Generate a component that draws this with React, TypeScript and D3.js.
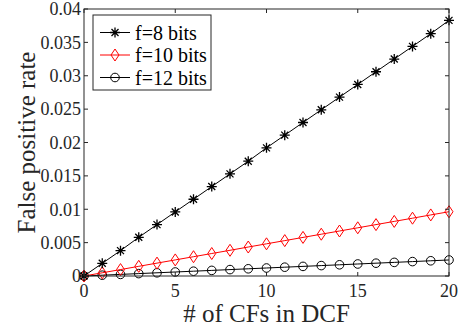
import React, { useEffect, useRef } from "react";
import * as d3 from "d3";

// number of CFs in the DCF
const cfCounts = [0, 1, 2, 3, 4, 5, 6, 7, 8, 9, 10, 11, 12, 13, 14, 15, 16, 17, 18, 19, 20];

const fpr8 = [0, 0.0019, 0.0038, 0.0058, 0.0077, 0.0096, 0.0115, 0.0134, 0.0153, 0.0172, 0.0192,
  0.0211, 0.023, 0.0249, 0.0268, 0.0287, 0.0306, 0.0325, 0.0344, 0.0363, 0.0383];
const fpr10 = [0, 0.00048, 0.00096, 0.00145, 0.00193, 0.00241, 0.00289, 0.00337, 0.00385, 0.00434, 0.00482,
  0.0053, 0.00578, 0.00626, 0.00674, 0.00722, 0.0077, 0.00818, 0.00866, 0.00915, 0.00963];
const fpr12 = [0, 0.00012, 0.00024, 0.00036, 0.00048, 0.0006, 0.00072, 0.00084, 0.00096, 0.00108, 0.0012,
  0.00132, 0.00144, 0.00156, 0.00168, 0.0018, 0.00192, 0.00204, 0.00216, 0.00228, 0.0024];

const seriesNames = ["f=8 bits", "f=10 bits", "f=12 bits"];
const xTicks = [0, 5, 10, 15, 20];
const yTicks = [0, 0.005, 0.01, 0.015, 0.02, 0.025, 0.03, 0.035, 0.04];

const FONT = "'Liberation Serif', 'Times New Roman', serif";
const AXIS = "#262626";

export default function App() {
  const ref = useRef<SVGSVGElement>(null);

  useEffect(() => {
    const svg = d3.select(ref.current);
    svg.selectAll("*").remove();

    const width = 462;
    const height = 335;
    const margin = { top: 9, right: 13, bottom: 59, left: 84 };

    const x = d3.scaleLinear().domain([0, 20]).range([margin.left, width - margin.right]);
    const y = d3.scaleLinear().domain([0, 0.04]).range([height - margin.bottom, margin.top]);

    const series = [
      { name: seriesNames[0], values: fpr8, color: "#000000", marker: "star" },
      { name: seriesNames[1], values: fpr10, color: "#ff0000", marker: "diamond" },
      { name: seriesNames[2], values: fpr12, color: "#000000", marker: "circle" },
    ];

    const drawMarker = (g: any, type: string, color: string) => {
      if (type === "star") {
        const r = 5;
        return g.append("path")
          .attr("d", `M${-r},0H${r}M0,${-r}V${r}M${-r * 0.7},${-r * 0.7}L${r * 0.7},${r * 0.7}M${-r * 0.7},${r * 0.7}L${r * 0.7},${-r * 0.7}`)
          .attr("stroke", color)
          .attr("stroke-width", 1.3)
          .attr("fill", "none");
      }
      if (type === "diamond") {
        return g.append("path")
          .attr("d", "M0,-6L4,0L0,6L-4,0Z")
          .attr("stroke", color)
          .attr("stroke-width", 1)
          .attr("fill", "none");
      }
      return g.append("circle")
        .attr("r", 4.3)
        .attr("stroke", color)
        .attr("stroke-width", 1)
        .attr("fill", "none");
    };

    const x0 = x(0), x1 = x(20), y0 = y(0), y1 = y(0.04);

    // Lines and markers
    const line = d3.line<number>()
      .x((_, i) => x(cfCounts[i]))
      .y(d => y(d));

    series.slice().reverse().forEach(s => {
      svg.append("path")
        .datum(s.values)
        .attr("d", line)
        .attr("fill", "none")
        .attr("stroke", s.color)
        .attr("stroke-width", 1);
      s.values.forEach((v, i) => {
        const g = svg.append("g").attr("transform", `translate(${x(cfCounts[i])},${y(v)})`);
        drawMarker(g, s.marker, s.color);
      });
    });

    // axes box
    const axisG = svg.append("g");
    axisG.append("rect")
      .attr("x", x0).attr("y", y1)
      .attr("width", x1 - x0).attr("height", y0 - y1)
      .attr("fill", "none")
      .attr("stroke", AXIS)
      .attr("stroke-width", 1);

    // X ticks (bottom + mirrored top)
    xTicks.forEach(t => {
      axisG.append("line").attr("x1", x(t)).attr("x2", x(t)).attr("y1", y0).attr("y2", y0 - 4).attr("stroke", AXIS);
      axisG.append("line").attr("x1", x(t)).attr("x2", x(t)).attr("y1", y1).attr("y2", y1 + 4).attr("stroke", AXIS);
      axisG.append("text")
        .attr("x", x(t)).attr("y", y0 + 21)
        .attr("text-anchor", "middle")
        .attr("font-family", FONT).attr("font-size", 18)
        .attr("fill", AXIS)
        .text(d3.format("d")(t));
    });

    // Y ticks (left + mirrored right)
    yTicks.forEach(t => {
      axisG.append("line").attr("x1", x0).attr("x2", x0 + 4).attr("y1", y(t)).attr("y2", y(t)).attr("stroke", AXIS);
      axisG.append("line").attr("x1", x1).attr("x2", x1 - 4).attr("y1", y(t)).attr("y2", y(t)).attr("stroke", AXIS);
      axisG.append("text")
        .attr("x", x0 - 3).attr("y", y(t))
        .attr("dy", "0.35em")
        .attr("text-anchor", "end")
        .attr("font-family", FONT).attr("font-size", 18)
        .attr("fill", AXIS)
        .text(t === 0 ? "0" : String(+t.toFixed(3)));
    });

    // Axis labels
    svg.append("text")
      .attr("x", (x0 + x1) / 2).attr("y", 322)
      .attr("text-anchor", "middle")
      .attr("font-family", FONT).attr("font-size", 25)
      .attr("fill", AXIS)
      .text("# of CFs in DCF");

    svg.append("text")
      .attr("transform", `translate(35,${(y0 + y1) / 2}) rotate(-90)`)
      .attr("text-anchor", "middle")
      .attr("font-family", FONT).attr("font-size", 25)
      .attr("fill", AXIS)
      .text("False positive rate");

    // Legend
    const legend = svg.append("g").attr("transform", "translate(93,15)");
    legend.append("rect")
      .attr("width", 118).attr("height", 75)
      .attr("fill", "#fff")
      .attr("stroke", AXIS)
      .attr("stroke-width", 1);
    series.forEach((s, i) => {
      const cy = 17.5 + i * 22.5;
      legend.append("line")
        .attr("x1", 7).attr("x2", 37).attr("y1", cy).attr("y2", cy)
        .attr("stroke", s.color).attr("stroke-width", 1);
      const g = legend.append("g").attr("transform", `translate(22,${cy})`);
      drawMarker(g, s.marker, s.color);
      legend.append("text")
        .attr("x", 42).attr("y", cy)
        .attr("dy", "0.35em")
        .attr("font-family", FONT).attr("font-size", 20)
        .attr("fill", "#000")
        .text(s.name);
    });
  }, []);

  return (
    <svg ref={ref} width={462} height={335} style={{ position: "absolute", left: 0, top: 0, background: "#fff" }}></svg>
  );
}
